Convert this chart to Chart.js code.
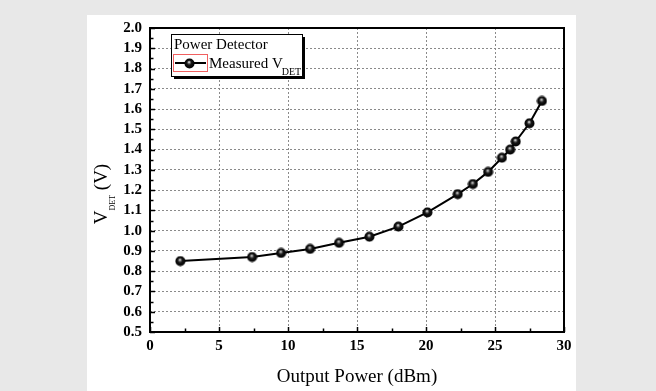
<!DOCTYPE html>
<html>
<head>
<meta charset="utf-8">
<script src="https://cdn.jsdelivr.net/npm/chart.js@4.4.1/dist/chart.umd.min.js"></script>
<style>
  html, body { margin: 0; padding: 0; background: #e8e8e8; }
  #panel { position: absolute; left: 87px; top: 15px; width: 489px; height: 376px; background: #fff; }
  #wrap { position: absolute; left: 0; top: 0; width: 656px; height: 391px; }
</style>
</head>
<body>
<div id="panel"></div>
<div id="wrap"><canvas id="detChart" width="656" height="391"></canvas></div>
<script>
"use strict";

// measured detector voltage vs. output power
const outputPower = [2.2, 7.4, 9.5, 11.6, 13.7, 15.9, 18.0, 20.1, 22.3, 23.4, 24.5, 25.5, 26.1, 26.5, 27.5, 28.4];
const vDet = [0.85, 0.87, 0.89, 0.91, 0.94, 0.97, 1.02, 1.09, 1.18, 1.23, 1.29, 1.36, 1.40, 1.44, 1.53, 1.64];

const xTicks = [0, 5, 10, 15, 20, 25, 30];
const yTicks = [0.5, 0.6, 0.7, 0.8, 0.9, 1.0, 1.1, 1.2, 1.3, 1.4, 1.5, 1.6, 1.7, 1.8, 1.9, 2.0];

const LEGEND_TITLE = "Power Detector";
const SERIES_LABEL = "Measured V";
const SERIES_SUB = "DET";
const X_TITLE = "Output Power (dBm)";
const Y_TITLE_MAIN = "V";
const Y_TITLE_SUB = "DET";
const Y_TITLE_REST = " (V)";

const SERIF = "'Liberation Serif', 'Times New Roman', serif";

function makeBall(r) {
  const c = document.createElement("canvas");
  c.width = c.height = r * 2 + 1;
  const g = c.getContext("2d");
  const cx = r + 0.5, cy = r + 0.5;
  const grad = g.createRadialGradient(cx - 0.5, cy - 1.5, 0.2, cx, cy, r);
  grad.addColorStop(0, "#f0f0f0");
  grad.addColorStop(0.2, "#777");
  grad.addColorStop(0.45, "#161616");
  grad.addColorStop(1, "#000");
  g.fillStyle = grad;
  g.beginPath();
  g.arc(cx, cy, r, 0, Math.PI * 2);
  g.fill();
  return c;
}

const ball = makeBall(5);

const framePlugin = {
  id: "frame",
  afterDraw(chart) {
    const { ctx, chartArea: a, scales: { x, y } } = chart;
    ctx.save();

    // inner ticks, bottom and left
    ctx.strokeStyle = "#000";
    ctx.lineWidth = 1.5;
    ctx.beginPath();
    for (let v = xTicks[0]; v <= xTicks[xTicks.length - 1] + 1e-9; v += 2.5) {
      const px = Math.round(x.getPixelForValue(v)) + 0.5;
      const len = (Math.abs(v % 5) < 1e-6) ? 5 : 3.5;
      ctx.moveTo(px, a.bottom);
      ctx.lineTo(px, a.bottom - len);
    }
    for (let i = 0; i <= 30; i++) {
      const v = 0.5 + i * 0.05;
      const py = Math.round(y.getPixelForValue(v)) + 0.5;
      const len = (i % 2 === 0) ? 5 : 3.5;
      ctx.moveTo(a.left, py);
      ctx.lineTo(a.left + len, py);
    }
    ctx.stroke();

    // frame
    ctx.lineWidth = 2;
    ctx.strokeRect(a.left, a.top, a.right - a.left, a.bottom - a.top);

    // legend box with shadow
    const lx = 171, ly = 34, lw = 131, lh = 42;
    ctx.fillStyle = "#000";
    ctx.fillRect(lx + 3, ly + 3, lw, lh);
    ctx.fillStyle = "#fff";
    ctx.fillRect(lx, ly, lw, lh);
    ctx.lineWidth = 1;
    ctx.strokeStyle = "#000";
    ctx.strokeRect(lx + 0.5, ly + 0.5, lw, lh);

    ctx.fillStyle = "#000";
    ctx.textBaseline = "alphabetic";
    ctx.textAlign = "left";
    ctx.font = "15px " + SERIF;
    ctx.fillText(LEGEND_TITLE, 174, 49);

    ctx.strokeStyle = "#f06060";
    ctx.lineWidth = 1;
    ctx.strokeRect(173.5, 54.5, 34, 17);
    ctx.strokeStyle = "#000";
    ctx.lineWidth = 2;
    ctx.beginPath();
    ctx.moveTo(175, 63);
    ctx.lineTo(206, 63);
    ctx.stroke();
    ctx.drawImage(ball, 189 - 5, 63 - 5);

    ctx.font = "15px " + SERIF;
    ctx.fillText(SERIES_LABEL, 209, 68);
    const w1 = ctx.measureText(SERIES_LABEL).width;
    ctx.font = "10px " + SERIF;
    ctx.fillText(SERIES_SUB, 209 + w1 - 1, 75);

    // x title
    ctx.font = "19px " + SERIF;
    ctx.textAlign = "center";
    ctx.fillText(X_TITLE, (a.left + a.right) / 2, 382);

    // y title, rotated with subscript
    ctx.textAlign = "left";
    ctx.font = "19px " + SERIF;
    const wV = ctx.measureText(Y_TITLE_MAIN).width;
    const wR = ctx.measureText(Y_TITLE_REST).width;
    ctx.font = "8px " + SERIF;
    const wS = ctx.measureText(Y_TITLE_SUB).width;
    const total = wV + wS + wR;
    ctx.translate(107, 194 + total / 2);
    ctx.rotate(-Math.PI / 2);
    ctx.font = "19px " + SERIF;
    ctx.fillText(Y_TITLE_MAIN, 0, 0);
    ctx.font = "8px " + SERIF;
    ctx.fillText(Y_TITLE_SUB, wV, 8);
    ctx.font = "19px " + SERIF;
    ctx.fillText(Y_TITLE_REST, wV + wS, 0);

    ctx.restore();
  }
};

new Chart(document.getElementById("detChart"), {
  type: "line",
  data: {
    datasets: [{
      label: SERIES_LABEL + SERIES_SUB,
      data: outputPower.map((p, i) => ({ x: p, y: vDet[i] })),
      borderColor: "#000",
      borderWidth: 2,
      tension: 0,
      pointStyle: ball,
      pointRadius: 5,
      pointHoverRadius: 5
    }]
  },
  options: {
    responsive: false,
    animation: false,
    layout: { padding: { left: 0, right: 92, top: 28, bottom: 0 } },
    plugins: {
      legend: { display: false },
      tooltip: { enabled: false }
    },
    scales: {
      x: {
        type: "linear",
        min: xTicks[0],
        max: xTicks[xTicks.length - 1],
        afterFit: s => { s.height = 59; },
        afterBuildTicks: s => { s.ticks = xTicks.map(v => ({ value: v })); },
        border: { display: false, dash: [2, 2] },
        grid: { color: "#8a8a8a", lineWidth: 1, drawTicks: false },
        ticks: {
          autoSkip: false,
          maxRotation: 0,
          padding: 5,
          color: "#000",
          font: { family: SERIF, size: 15, weight: "bold" },
          callback: v => String(v)
        }
      },
      y: {
        min: yTicks[0],
        max: yTicks[yTicks.length - 1],
        afterFit: s => { s.width = 150; },
        afterBuildTicks: s => { s.ticks = yTicks.map(v => ({ value: v })); },
        border: { display: false, dash: [2, 2] },
        grid: { color: "#8a8a8a", lineWidth: 1, drawTicks: false },
        ticks: {
          autoSkip: false,
          padding: 8,
          color: "#000",
          font: { family: SERIF, size: 15, weight: "bold" },
          callback: v => Number(v).toFixed(1)
        }
      }
    }
  },
  plugins: [framePlugin]
});
</script>
</body>
</html>
